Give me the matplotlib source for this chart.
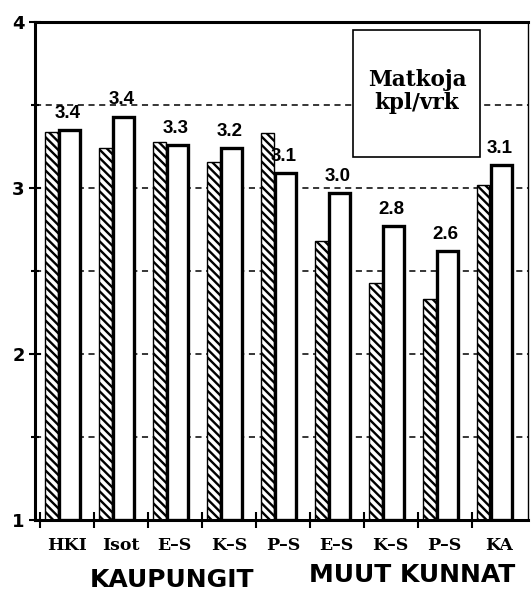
import matplotlib.pyplot as plt
import numpy as np
from matplotlib.patches import Rectangle

# data
categories = ["HKI", "Isot", "E–S", "K–S", "P–S", "E–S", "K–S", "P–S", "KA"]
hatched_vals = [3.34, 3.24, 3.28, 3.16, 3.33, 2.68, 2.43, 2.33, 3.02]
white_vals = [3.35, 3.43, 3.26, 3.24, 3.09, 2.97, 2.77, 2.62, 3.14]
value_labels = ["3.4", "3.4", "3.3", "3.2", "3.1", "3.0", "2.8", "2.6", "3.1"]
groups = ["KAUPUNGIT", "MUUT KUNNAT"]

plt.rcParams["hatch.linewidth"] = 1.7

fig = plt.figure(figsize=(5.31, 5.99), dpi=100)
ax = fig.add_axes([0.066, 0.132, 0.928, 0.831])

x = np.arange(len(categories))

# katkoviivat pylväiden taakse
for yv in [1.5, 2, 2.5, 3, 3.5]:
    ax.axhline(yv, color="black", lw=1.1, ls=(0, (4, 3)), zorder=0)

ax.bar(x - 0.29, np.array(hatched_vals) - 1, bottom=1, width=0.24,
       facecolor="white", edgecolor="black", hatch="\\\\\\\\", lw=1.0, zorder=2)
ax.bar(x + 0.05, np.array(white_vals) - 1, bottom=1, width=0.38,
       facecolor="white", edgecolor="black", lw=2.4, zorder=3)

for xi, v, lab in zip(x, white_vals, value_labels):
    ax.text(xi + 0.02, v + 0.05, lab, ha="center", va="bottom",
            fontsize=13.5, fontweight="bold", family="Liberation Sans", zorder=4)

# selitelaatikko
ax.add_patch(Rectangle((0.645, 0.729), 0.258, 0.255, transform=ax.transAxes,
                       facecolor="white", edgecolor="black", lw=1.2, zorder=5))
ax.text(0.775, 0.86, "Matkoja\nkpl/vrk", transform=ax.transAxes,
        ha="center", va="center", fontsize=15.5, fontweight="bold",
        family="DejaVu Serif", linespacing=1.05, zorder=6)

ax.set_xlim(-0.59, 8.54)
ax.set_ylim(1, 4)

ax.set_yticks([1, 2, 3, 4])
ax.set_yticks([1.5, 2.5, 3.5], minor=True)
ax.tick_params(axis="y", which="both", direction="inout", length=8, width=1.5)
ax.tick_params(axis="y", which="minor", length=6)
for t in ax.get_yticklabels():
    t.set_fontsize(13)
    t.set_fontweight("bold")

ax.set_xticks(np.arange(-0.5, 8.5, 1.0))
ax.set_xticklabels([])
ax.tick_params(axis="x", which="major", direction="inout", length=12, width=1.5)
ax.set_xticks(x, minor=True)
ax.set_xticklabels(categories, minor=True, fontsize=12.5, fontweight="bold",
                   family="DejaVu Serif")
ax.tick_params(axis="x", which="minor", length=0, pad=12)

for side in ["left", "bottom", "top"]:
    ax.spines[side].set_linewidth(2.2)
ax.spines["right"].set_linewidth(1.0)

fig.text(172 / 531, 1 - 580 / 599, groups[0], ha="center", va="center",
         fontsize=18, fontweight="bold", family="DejaVu Sans")
fig.text(412 / 531, 1 - 575 / 599, groups[1], ha="center", va="center",
         fontsize=18, fontweight="bold", family="DejaVu Sans")

fig.savefig("out.png", dpi=100)
